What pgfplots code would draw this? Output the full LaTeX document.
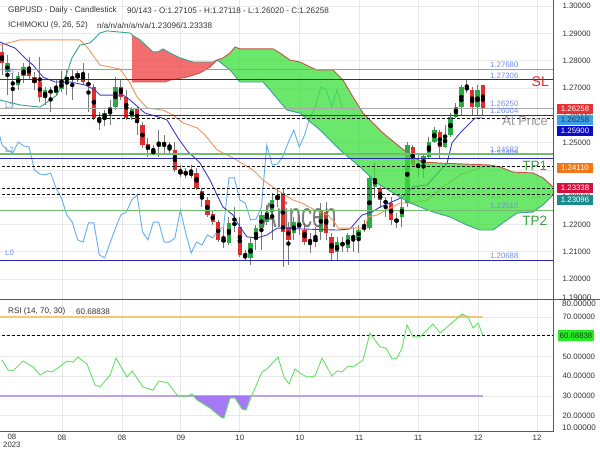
\documentclass[border=0pt]{standalone}
\usepackage{pgfplots}
\pgfplotsset{compat=1.18}
\usepackage{pgfplotstable}
\usepackage{fontspec}
\setmainfont{Liberation Sans}
\pgfplotsset{/pgf/number format/assume math mode=true}

\definecolor{cgreen}{RGB}{40,170,70}
\definecolor{cred}{RGB}{222,45,45}
\definecolor{wick}{RGB}{120,120,120}
\definecolor{tenkan}{RGB}{60,60,200}
\definecolor{kijun}{RGB}{243,150,90}
\definecolor{chikou}{RGB}{100,175,240}
\definecolor{spanA}{RGB}{60,160,150}
\definecolor{spanB}{RGB}{200,80,70}
\definecolor{cloudR}{RGB}{238,62,62}
\definecolor{cloudG}{RGB}{58,224,58}
\definecolor{lvlblue}{RGB}{40,40,170}
\definecolor{lvlred}{RGB}{240,120,120}
\definecolor{lvlgreen}{RGB}{110,190,110}
\definecolor{lvlgray}{RGB}{170,170,170}
\definecolor{lbl}{RGB}{110,140,240}
\definecolor{gridc}{RGB}{232,232,232}
\definecolor{txt}{RGB}{51,51,51}
\definecolor{rsiline}{RGB}{100,225,100}
\definecolor{ob}{RGB}{245,200,120}
\definecolor{os}{RGB}{190,160,235}
\definecolor{osfill}{RGB}{165,120,245}
\definecolor{framec}{RGB}{90,90,90}
\definecolor{slred}{RGB}{235,40,40}
\definecolor{tpgreen}{RGB}{60,160,60}
\definecolor{boxred}{RGB}{228,50,55}
\definecolor{boxlblue}{RGB}{60,160,232}
\definecolor{boxdblue}{RGB}{10,10,200}
\definecolor{boxorange}{RGB}{240,120,24}
\definecolor{boxcrim}{RGB}{216,16,60}
\definecolor{boxteal}{RGB}{26,140,140}
\definecolor{boxgreen}{RGB}{34,238,34}
\definecolor{wmark}{RGB}{95,95,95}

\newcommand{\fsz}[1]{\fontsize{#1}{#1}\selectfont}

\pgfplotstableread{
i O H L C
0 1.2832 1.2865 1.2747 1.2791
1 1.2758 1.2821 1.2674 1.2791
2 1.2718 1.2755 1.2638 1.2715
3 1.2711 1.2758 1.2693 1.2744
4 1.2744 1.2791 1.2718 1.2777
5 1.2777 1.2813 1.2729 1.2744
6 1.2740 1.2758 1.2693 1.2718
7 1.2722 1.2813 1.2649 1.2667
8 1.2663 1.2704 1.2638 1.2693
9 1.2689 1.2704 1.2612 1.2685
10 1.2682 1.2729 1.2674 1.2700
11 1.2696 1.2762 1.2685 1.2722
12 1.2726 1.2766 1.2674 1.2740
13 1.2740 1.2766 1.2656 1.2733
14 1.2737 1.2762 1.2722 1.2755
15 1.2755 1.2791 1.2711 1.2722
16 1.2718 1.2755 1.2612 1.2711
17 1.2704 1.2715 1.2583 1.2590
18 1.2590 1.2612 1.2546 1.2583
19 1.2590 1.2619 1.2561 1.2608
20 1.2608 1.2656 1.2565 1.2630
21 1.2630 1.2740 1.2619 1.2704
22 1.2704 1.2729 1.2656 1.2667
23 1.2667 1.2693 1.2583 1.2590
24 1.2594 1.2630 1.2583 1.2623
25 1.2623 1.2630 1.2528 1.2572
26 1.2565 1.2575 1.2480 1.2491
27 1.2495 1.2517 1.2447 1.2473
28 1.2469 1.2491 1.2455 1.2462
29 1.2484 1.2546 1.2447 1.2502
30 1.2502 1.2528 1.2455 1.2488
31 1.2488 1.2502 1.2455 1.2484
32 1.2473 1.2502 1.2392 1.2400
33 1.2396 1.2418 1.2374 1.2385
34 1.2392 1.2407 1.2371 1.2382
35 1.2382 1.2418 1.2371 1.2389
36 1.2389 1.2407 1.2327 1.2334
37 1.2323 1.2334 1.2264 1.2297
38 1.2290 1.2301 1.2228 1.2235
39 1.2239 1.2253 1.2198 1.2209
40 1.2209 1.2217 1.2136 1.2144
41 1.2147 1.2187 1.2114 1.2136
42 1.2133 1.2228 1.2125 1.2206
43 1.2198 1.2264 1.2173 1.2206
44 1.2191 1.2228 1.2081 1.2089
45 1.2089 1.2107 1.2070 1.2078
46 1.2078 1.2151 1.2052 1.2133
47 1.2144 1.2198 1.2107 1.2187
48 1.2187 1.2253 1.2107 1.2235
49 1.2209 1.2272 1.2198 1.2246
50 1.2246 1.2316 1.2144 1.2290
51 1.2290 1.2334 1.2264 1.2308
52 1.2316 1.2334 1.2045 1.2173
53 1.2191 1.2209 1.2052 1.2144
54 1.2169 1.2228 1.2144 1.2209
55 1.2187 1.2235 1.2162 1.2209
56 1.2180 1.2206 1.2125 1.2136
57 1.2144 1.2169 1.2096 1.2136
58 1.2136 1.2191 1.2118 1.2151
59 1.2173 1.2279 1.2144 1.2253
60 1.2246 1.2283 1.2144 1.2169
61 1.2155 1.2169 1.2070 1.2096
62 1.2100 1.2155 1.2070 1.2136
63 1.2133 1.2155 1.2100 1.2125
64 1.2114 1.2169 1.2100 1.2162
65 1.2158 1.2191 1.2100 1.2151
66 1.2151 1.2198 1.2096 1.2180
67 1.2184 1.2217 1.2173 1.2191
68 1.2187 1.2382 1.2180 1.2371
69 1.2338 1.2429 1.2297 1.2371
70 1.2334 1.2341 1.2261 1.2290
71 1.2286 1.2301 1.2228 1.2279
72 1.2279 1.2301 1.2198 1.2217
73 1.2209 1.2242 1.2187 1.2220
74 1.2228 1.2308 1.2191 1.2264
75 1.2279 1.2502 1.2264 1.2491
76 1.2484 1.2491 1.2411 1.2418
77 1.2411 1.2455 1.2374 1.2422
78 1.2411 1.2455 1.2371 1.2451
79 1.2447 1.2521 1.2444 1.2502
80 1.2502 1.2557 1.2499 1.2546
81 1.2539 1.2546 1.2444 1.2484
82 1.2484 1.2565 1.2480 1.2528
83 1.2528 1.2608 1.2521 1.2594
84 1.2594 1.2645 1.2590 1.2630
85 1.2630 1.2711 1.2601 1.2704
86 1.2704 1.2729 1.2682 1.2693
87 1.2693 1.2704 1.2601 1.2630
88 1.2630 1.2711 1.2601 1.2693
89 1.27105 1.27118 1.26020 1.26258
}\candles

\begin{document}
\begin{tikzpicture}
\useasboundingbox (0,0) rectangle (600bp,450bp);
\fill[white] (0,0) rectangle (600bp,450bp);

% ---------------- main price panel ----------------
\begin{axis}[
  at={(0bp,151bp)}, anchor=south west, scale only axis,
  width=553bp, height=299bp,
  xmin=-0.37, xmax=101.96, ymin=1.19276, ymax=1.3022,
  axis line style={draw=none}, major tick length=0pt,
  xtick={11.1,22.2,33.1,44.0,55.1,66.1,77.0,88.1,99.0}, xticklabels={},
  ytick={1.20,1.21,1.22,1.23,1.24,1.25,1.26,1.27,1.28,1.29,1.30},
  yticklabel pos=right,
  yticklabel style={anchor=west, xshift=6bp, font=\fsz{7.8bp}, text=txt,
    /pgf/number format/fixed, /pgf/number format/fixed zerofill, /pgf/number format/precision=5},
  grid=major, grid style={gridc, line width=0.8bp},
]
% wicks
\addplot[only marks, mark=none, forget plot, error bars/.cd, y dir=both, y explicit, error mark=none,
  error bar style={draw=wick, line width=1bp}]
  table[x=i, y expr={(\thisrow{H}+\thisrow{L})/2}, y error expr={(\thisrow{H}-\thisrow{L})/2}]{\candles};
% green bodies
\addplot[only marks, mark=none, forget plot, restrict expr to domain={\thisrow{C}-\thisrow{O}}{0:1},
  error bars/.cd, y dir=both, y explicit, error mark=none,
  error bar style={draw=cgreen, line width=4.4bp}]
  table[x=i, y expr={(\thisrow{O}+\thisrow{C})/2}, y error expr={max(abs(\thisrow{C}-\thisrow{O})/2,0.00012)}]{\candles};
% red bodies
\addplot[only marks, mark=none, forget plot, restrict expr to domain={\thisrow{C}-\thisrow{O}}{-1:-0.000001},
  error bars/.cd, y dir=both, y explicit, error mark=none,
  error bar style={draw=cred, line width=4.4bp}]
  table[x=i, y expr={(\thisrow{O}+\thisrow{C})/2}, y error expr={max(abs(\thisrow{C}-\thisrow{O})/2,0.00012)}]{\candles};
% watermark (over the candles, semi-transparent)
\node[text=wmark, text opacity=0.8, font=\fsz{22bp}, yscale=1.6] at (axis cs:55.0,1.2235) {Arincen};

% chikou span (close shifted 26 bars back)
\addplot[chikou, line width=0.9bp, mark=none] table[x expr={\thisrow{i}-26}, y=C]{\candles};
% tenkan
\addplot[tenkan, line width=0.9bp, mark=none] coordinates {
(-0.37,1.2868) (2.41,1.2846) (4.63,1.2802) (5.74,1.2784) (7.59,1.2740) (9.81,1.2722) (12.58,1.2722)
(15.36,1.2711) (17.21,1.2693) (18.13,1.2674) (22.39,1.2674) (23.69,1.2656) (26.46,1.2608) (29.61,1.2590)
(30.53,1.2583) (32.57,1.2517) (34.42,1.2466) (35.71,1.2444) (36.64,1.2425) (38.49,1.2363) (39.79,1.2308)
(40.90,1.2264) (42.75,1.2235) (44.04,1.2191) (45.34,1.2155) (47.19,1.2151) (49.04,1.2162) (50.89,1.2187)
(52.74,1.2187) (55.14,1.2184) (62.18,1.2180) (64.40,1.2184) (66.62,1.2235) (68.47,1.2246) (69.95,1.2264)
(74.20,1.2301) (76.05,1.2338) (78.65,1.2345) (82.35,1.2425) (83.27,1.2499) (84.75,1.2535) (86.60,1.2572)
(87.53,1.2590) (89.0,1.2590)};
% kijun
\addplot[kijun, line width=0.9bp, mark=none] coordinates {
(-0.37,1.2857) (3.33,1.2876) (14.43,1.2876) (15.73,1.2850) (18.13,1.2784) (21.84,1.2769) (23.69,1.2718)
(24.98,1.2667) (26.83,1.2627) (29.79,1.2619) (31.64,1.2601) (33.49,1.2572) (36.08,1.2554) (37.56,1.2528)
(39.79,1.2473) (42.75,1.2444) (46.45,1.2400) (48.30,1.2363) (50.89,1.2327) (53.85,1.2290) (55.51,1.2279)
(57.92,1.2253) (60.33,1.2235) (61.62,1.2206) (62.18,1.2187) (67.17,1.2187) (67.73,1.2228) (69.39,1.2235)
(73.65,1.2279) (75.50,1.2279) (78.65,1.2290) (81.61,1.2338) (84.75,1.2382) (88.45,1.2407) (89.0,1.2411)};

% cloud fills
\addplot[draw=none, fill=cloudR, fill opacity=0.75, forget plot] coordinates {
(24.06,1.2894) (25.54,1.2876) (27.94,1.2832) (28.87,1.2832) (29.79,1.2843) (31.09,1.2828) (32.94,1.2810)
(35.34,1.2795) (39.05,1.2795) (39.79,1.2802) (38.49,1.2777) (36.64,1.2755) (34.23,1.2740) (31.09,1.2729)
(30.16,1.2722) (24.06,1.2722)} -- cycle;
\addplot[draw=none, fill=cloudG, fill opacity=0.75, forget plot] coordinates {
(39.79,1.2802) (40.90,1.2810) (42.19,1.2828) (43.12,1.2850) (44.04,1.2843) (50.15,1.2843) (51.44,1.2828)
(53.29,1.2802) (55.14,1.2795) (56.99,1.2777) (58.29,1.2766) (61.25,1.2766) (63.10,1.2729) (64.95,1.2667)
(66.80,1.2608) (68.10,1.2583) (70.50,1.2535) (73.65,1.2484) (76.05,1.2447) (77.91,1.2429) (81.05,1.2425)
(90.30,1.2418) (92.15,1.2411) (94.56,1.2392) (98.26,1.2389) (100.11,1.2371) (101.96,1.2338)
(101.96,1.2308) (100.11,1.2272) (98.26,1.2246) (95.30,1.2242) (93.45,1.2217) (90.86,1.2180) (88.45,1.2180)
(86.05,1.2198) (82.90,1.2228) (79.76,1.2246) (75.50,1.2279) (72.35,1.2316) (69.39,1.2352) (66.25,1.2411)
(62.55,1.2473) (58.85,1.2546) (55.14,1.2608) (52.74,1.2619) (51.44,1.2649) (49.59,1.2693) (48.30,1.2722)
(44.04,1.2722) (42.19,1.2766) (40.34,1.2795)} -- cycle;
% senkou span A
\addplot[spanA, line width=0.9bp, mark=none] coordinates {
(-0.37,1.2656) (3.33,1.2638) (7.03,1.2630) (10.18,1.2674) (12.03,1.2755) (12.95,1.2810) (14.43,1.2857)
(16.28,1.2865) (18.13,1.2901) (19.43,1.2909) (23.69,1.2901) (24.06,1.2894) (25.54,1.2876) (27.94,1.2832)
(28.87,1.2832) (29.79,1.2843) (31.09,1.2828) (32.94,1.2810) (35.34,1.2795) (39.05,1.2795) (39.79,1.2802)
(40.34,1.2795) (42.19,1.2766) (44.04,1.2722) (48.30,1.2722) (49.59,1.2693) (51.44,1.2649) (52.74,1.2619)
(55.14,1.2608) (58.85,1.2546) (62.55,1.2473) (66.25,1.2411) (69.39,1.2352) (72.35,1.2316) (75.50,1.2279)
(79.76,1.2246) (82.90,1.2228) (86.05,1.2198) (88.45,1.2180) (90.86,1.2180) (93.45,1.2217) (95.30,1.2242)
(98.26,1.2246) (100.11,1.2272) (101.96,1.2308)};
% senkou span B
\addplot[spanB, line width=0.9bp, mark=none] coordinates {
(24.06,1.2722) (30.16,1.2722) (31.09,1.2729) (34.23,1.2740) (36.64,1.2755) (38.49,1.2777) (39.79,1.2802)
(40.90,1.2810) (42.19,1.2828) (43.12,1.2850) (44.04,1.2843) (50.15,1.2843) (51.44,1.2828) (53.29,1.2802)
(55.14,1.2795) (56.99,1.2777) (58.29,1.2766) (61.25,1.2766) (63.10,1.2729) (64.95,1.2667) (66.80,1.2608)
(68.10,1.2583) (70.50,1.2535) (73.65,1.2484) (76.05,1.2447) (77.91,1.2429) (81.05,1.2425) (90.30,1.2418)
(92.15,1.2411) (94.56,1.2392) (98.26,1.2389) (100.11,1.2371) (101.96,1.2338)};

% level lines
\addplot[lvlred, line width=1.5bp, mark=none] coordinates {(-1,1.27680) (103,1.27680)};
\addplot[lvlblue, line width=1.1bp, mark=none] coordinates {(-1,1.27306) (103,1.27306)};
\addplot[lvlgray, line width=1.1bp, mark=none] coordinates {(-1,1.26250) (103,1.26250)};
\addplot[lvlblue, line width=1.1bp, mark=none] coordinates {(-1,1.26004) (103,1.26004)};
\addplot[lvlgreen, line width=1.1bp, mark=none] coordinates {(-1,1.24582) (103,1.24582)};
\addplot[lvlblue, line width=1.1bp, mark=none] coordinates {(-1,1.24409) (103,1.24409)};
\addplot[lvlgreen, line width=1.1bp, mark=none] coordinates {(-1,1.22510) (103,1.22510)};
\addplot[lvlblue, line width=1.1bp, mark=none] coordinates {(-1,1.20688) (103,1.20688)};
\addplot[black, line width=0.9bp, dash pattern=on 3bp off 2bp, mark=none] coordinates {(-1,1.25900) (103,1.25900)};
\addplot[black, line width=0.9bp, dash pattern=on 3bp off 2bp, mark=none] coordinates {(-1,1.24110) (103,1.24110)};
\addplot[black, line width=0.9bp, dash pattern=on 3bp off 2bp, mark=none] coordinates {(-1,1.23338) (103,1.23338)};
\addplot[black, line width=0.9bp, dash pattern=on 3bp off 2bp, mark=none] coordinates {(-1,1.23096) (103,1.23096)};

% level labels
\begin{scope}[every node/.style={anchor=west, inner sep=0pt, font=\fsz{7.8bp}, text=lbl}]
\node at (axis cs:90.3,1.2784) {1.27680};
\node at (axis cs:90.3,1.2744) {1.27306};
\node at (axis cs:90.3,1.2641) {1.26250};
\node at (axis cs:90.3,1.2616) {1.26004};
\node at (axis cs:90.3,1.2473) {1.24582};
\node at (axis cs:90.3,1.2462) {1.24409};
\node at (axis cs:90.3,1.2268) {1.22510};
\node at (axis cs:90.3,1.2085) {1.20688};
\node at (axis cs:0.56,1.2758) {L5};
\node at (axis cs:0.56,1.2634) {L3};
\node at (axis cs:0.56,1.2473) {L2};
\node at (axis cs:0.56,1.2096) {L0};
\end{scope}
\node[inner sep=0pt, font=\fsz{14bp}, text=slred] at (axis cs:99.6,1.2724) {SL};
\node[inner sep=0pt, font=\fsz{13bp}, text=black!40] at (axis cs:96.8,1.2579) {At Price};
\node[inner sep=0pt, font=\fsz{13.5bp}, text=tpgreen] at (axis cs:98.6,1.2414) {TP1};
\node[inner sep=0pt, font=\fsz{13.5bp}, text=tpgreen] at (axis cs:98.6,1.2213) {TP2};
\end{axis}

% ---------------- RSI panel ----------------
\begin{axis}[
  at={(0bp,18bp)}, anchor=south west, scale only axis,
  width=553bp, height=132bp,
  xmin=-0.37, xmax=101.96, ymin=11.8, ymax=78.6,
  axis line style={draw=none}, major tick length=0pt,
  xtick={11.1,22.2,33.1,44.0,55.1,66.1,77.0,88.1,99.0},
  xticklabels={08,08,09,10,10,11,11,12,12},
  xticklabel style={font=\fsz{7.8bp}, text=txt},
  ytick={20,30,40,50,70},
  yticklabel pos=right,
  yticklabel style={anchor=west, xshift=6bp, font=\fsz{7.8bp}, text=txt,
    /pgf/number format/fixed, /pgf/number format/fixed zerofill, /pgf/number format/precision=5},
  grid=major, grid style={gridc, line width=0.8bp},
]
\addplot[ob, line width=1.2bp, mark=none] coordinates {(-1,70) (89,70)};
\addplot[os, line width=1.2bp, mark=none] coordinates {(-1,30) (89,30)};
\addplot[draw=none, fill=osfill, forget plot] coordinates {
(35.5,30) (36.08,28.0) (38.49,23.9) (40.71,18.9) (41.08,18.9) (42.19,29.0) (43.12,29.0) (44.41,23.4)
(45.15,22.9) (46.0,30)} -- cycle;
\addplot[draw=none, fill=ob, forget plot] coordinates {(84.7,70) (85.12,71.5) (86.0,70)} -- cycle;
\addplot[black, line width=0.9bp, dash pattern=on 3bp off 2bp, mark=none] coordinates {(-1,60.68838) (103,60.68838)};
\addplot[rsiline, line width=0.9bp, mark=none] coordinates {
(0,48.2) (1.11,43.2) (2.04,42.7) (3.89,47.7) (5.74,44.7) (7.03,40.6) (8.33,42.7) (9.25,42.2) (10.36,44.2)
(12.03,47.7) (13.14,47.2) (14.06,49.7) (15.73,46.2) (17.21,35.6) (18.13,34.6) (19.99,40.6) (21.10,49.2)
(23.13,39.6) (24.06,42.7) (26.09,34.6) (27.94,33.0) (29.05,37.6) (30.72,36.6) (32.38,30.5) (33.86,29.5)
(35.16,31.0) (36.08,28.0) (38.49,23.9) (40.71,18.9) (41.08,18.9) (42.19,29.0) (43.12,29.0) (44.41,23.4)
(45.15,22.9) (46.26,30.5) (48.11,42.2) (49.04,43.7) (51.07,49.7) (52.18,39.6) (53.11,36.1) (54.22,43.7)
(55.14,41.6) (56.44,39.6) (57.92,40.1) (59.22,49.2) (61.07,40.1) (61.99,42.7) (62.92,42.2) (64.03,45.2)
(64.95,44.7) (66.80,48.2) (68.10,61.9) (69.95,54.8) (71.06,54.3) (72.17,48.7) (73.09,49.2) (74.02,54.3)
(74.94,66.0) (76.05,59.9) (77.35,59.9) (79.76,66.5) (81.05,61.9) (83.46,67.5) (85.12,71.5) (86.23,70.0)
(87.16,64.4) (88.08,67.0) (89.0,60.69)};
\end{axis}

% frame lines
\draw[framec, line width=1.3bp] (0,150.5bp) -- (600bp,150.5bp);
\draw[framec, line width=1bp] (553bp,18bp) -- (553bp,450bp);
\draw[framec, line width=1bp] (0,18bp) -- (553bp,18bp);

% header texts
\begin{scope}[every node/.style={anchor=west, inner sep=0pt, font=\fsz{8.1bp}, text=txt}]
\node at (8bp,439.5bp) {GBPUSD - Daily - Candlestick};
\node at (127bp,439.5bp) {90/143 - O:1.27105 - H:1.27118 - L:1.26020 - C:1.26258};
\node at (8bp,424.5bp) {ICHIMOKU (9, 26, 52)};
\node at (97bp,424.5bp) {n/a/n/a/n/a/n/a/1.23096/1.23338};
\node at (8bp,138.3bp) {RSI (14, 70, 30)};
\node at (76bp,138.3bp) {60.68838};
\node at (562bp,152.5bp) {1.19000};
\node at (562bp,146bp) {80.00000};
\node at (562bp,22.5bp) {10.00000};
\end{scope}
\node[inner sep=0pt, font=\fsz{7.8bp}, text=txt] at (12bp,13.5bp) {08};
\node[anchor=west, inner sep=0pt, font=\fsz{7.8bp}, text=txt] at (3bp,5bp) {2023};

% price boxes on the right
\begin{scope}[every node/.style={minimum width=36bp, minimum height=10.5bp, inner sep=0pt, font=\fsz{7.8bp}}]
\node[fill=boxred, text=white] at (575bp,341bp) {1.26258};
\node[fill=boxlblue, text=black!80] at (575bp,330bp) {1.26258};
\node[fill=boxdblue, text=white] at (575bp,319bp) {1.25900};
\node[fill=boxorange, text=white] at (575bp,282bp) {1.24110};
\node[fill=boxcrim, text=white] at (575bp,262bp) {1.23338};
\node[fill=boxteal, text=white] at (575bp,250bp) {1.23096};
\node[fill=boxgreen, text=black!80] at (576bp,114.5bp) {60.68838};
\end{scope}
\end{tikzpicture}
\end{document}
